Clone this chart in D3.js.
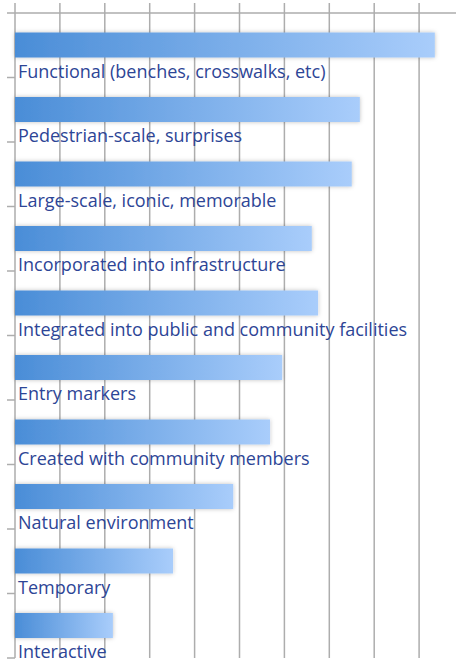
<!DOCTYPE html>
<html>
<head>
<meta charset="utf-8">
<script src="https://cdn.jsdelivr.net/npm/d3@7"></script>
<style>
  html, body { margin: 0; padding: 0; background: #fff; }
  svg { display: block; }
</style>
</head>
<body>
<div id="chart"></div>
<script>
const categories = [
    'Functional (benches, crosswalks, etc)',
    'Pedestrian-scale, surprises',
    'Large-scale, iconic, memorable',
    'Incorporated into infrastructure',
    'Integrated into public and community facilities',
    'Entry markers',
    'Created with community members',
    'Natural environment',
    'Temporary',
    'Interactive'
];
const values = [9.35, 7.68, 7.5, 6.61, 6.75, 5.95, 5.68, 4.86, 3.52, 2.18];
const xTicks = [0, 1, 2, 3, 4, 5, 6, 7, 8, 9];

const width = 456;
const height = 664;
const margin = { top: 13, left: 15, bottom: 6 };

const svg = d3.select('#chart').append('svg')
    .attr('width', width)
    .attr('height', height);

const x = d3.scaleLinear()
    .domain([0, 10])
    .range([margin.left, margin.left + 449]);

const y = d3.scaleBand()
    .domain(categories)
    .range([margin.top, height - margin.bottom]);

const defs = svg.append('defs');

const grad = defs.append('linearGradient')
    .attr('id', 'bar-gradient')
    .attr('x1', '0%').attr('y1', '0%')
    .attr('x2', '100%').attr('y2', '0%');
grad.append('stop').attr('offset', '0%').attr('stop-color', '#4a8dd7');
grad.append('stop').attr('offset', '100%').attr('stop-color', '#a9cdfb');

const shadow = defs.append('filter')
    .attr('id', 'bar-shadow')
    .attr('x', '-5%').attr('y', '-40%')
    .attr('width', '110%').attr('height', '180%');
shadow.append('feDropShadow')
    .attr('dx', 0).attr('dy', 0)
    .attr('stdDeviation', 2)
    .attr('flood-color', '#000')
    .attr('flood-opacity', 0.25);

// vertical gridlines
svg.append('g')
    .selectAll('line')
    .data(xTicks)
    .enter().append('line')
    .attr('x1', d => x(d))
    .attr('x2', d => x(d))
    .attr('y1', 3)
    .attr('y2', y.range()[1])
    .attr('stroke', '#adadad')
    .attr('stroke-width', 1.5);

// top line
svg.append('line')
    .attr('x1', margin.left)
    .attr('x2', width)
    .attr('y1', margin.top)
    .attr('y2', margin.top)
    .attr('stroke', '#adadad')
    .attr('stroke-width', 1.5);

// left tick marks at band boundaries
const boundaries = categories.map(c => y(c)).concat([y.range()[1]]);
svg.append('g')
    .selectAll('line')
    .data(boundaries)
    .enter().append('line')
    .attr('x1', 7)
    .attr('x2', margin.left)
    .attr('y1', d => d)
    .attr('y2', d => d)
    .attr('stroke', '#adadad')
    .attr('stroke-width', 1.5);

// bars
svg.append('g')
    .selectAll('rect')
    .data(categories)
    .enter().append('rect')
    .attr('x', x(0))
    .attr('y', d => y(d) + 19.5)
    .attr('width', (d, i) => x(values[i]) - x(0))
    .attr('height', 25)
    .attr('fill', 'url(#bar-gradient)')
    .attr('filter', 'url(#bar-shadow)');

// labels
svg.append('g')
    .selectAll('text')
    .data(categories)
    .enter().append('text')
    .attr('x', 18)
    .attr('y', d => y(d) + y.bandwidth())
    .attr('fill', '#2d4596')
    .style('font-family', '"Open Sans", sans-serif')
    .style('font-size', '18px')
    .text(d => d);
</script>
</body>
</html>
